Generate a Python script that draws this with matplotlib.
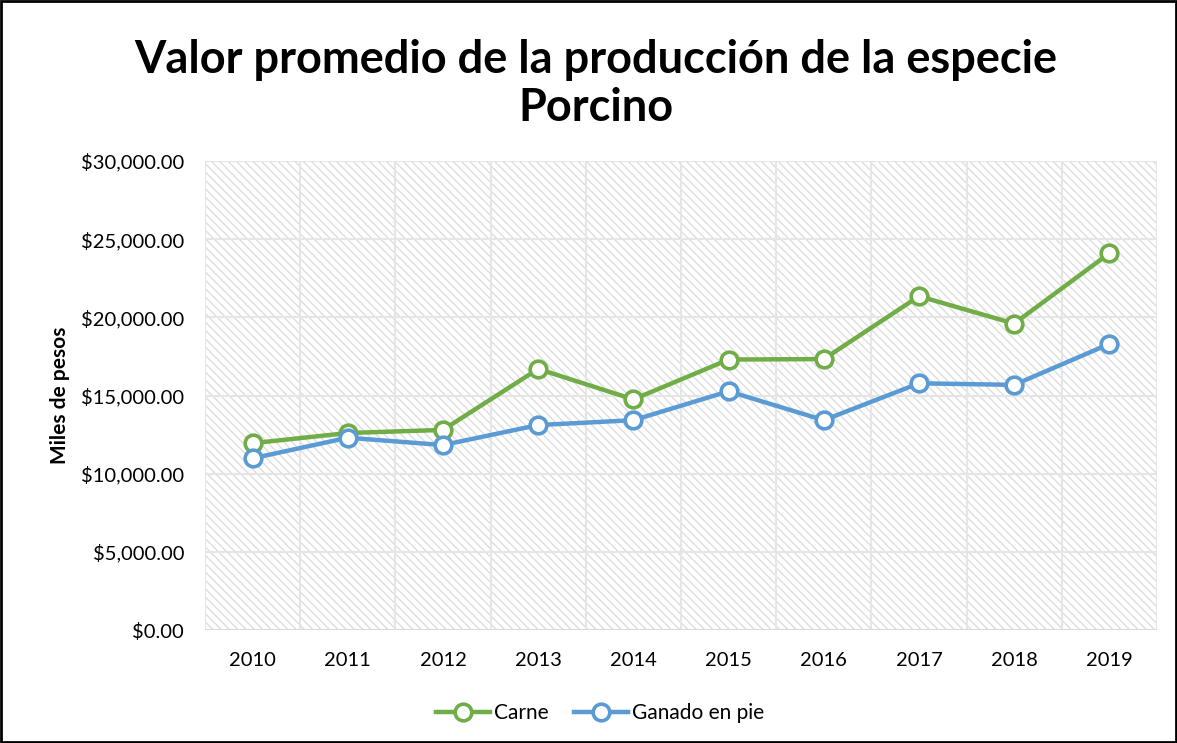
import numpy as np
import matplotlib.pyplot as plt
from matplotlib.patches import Rectangle
from matplotlib.ticker import FuncFormatter

plt.rcParams["font.family"] = ["Lato", "DejaVu Sans"]
plt.rcParams["hatch.linewidth"] = 1.0

years = ["2010", "2011", "2012", "2013", "2014", "2015", "2016", "2017", "2018", "2019"]
carne = [11950, 12600, 12800, 16700, 14750, 17300, 17330, 21350, 19600, 24100]
ganado = [10980, 12300, 11830, 13110, 13420, 15270, 13420, 15780, 15680, 18300]

green = "#70ad47"
blue = "#5b9bd5"

fig = plt.figure(figsize=(11.77, 7.43), dpi=100)
ax = fig.add_axes([205 / 1177, 1 - 630 / 743, 952 / 1177, 469 / 743])

x = np.arange(len(years))
ax.set_xlim(-0.5, len(years) - 0.5)
ax.set_ylim(0, 30000)

# hatched plot area
ax.add_patch(Rectangle((0, 0), 1, 1, transform=ax.transAxes, facecolor="white",
                       edgecolor="#dedede", hatch="\\\\\\\\", linewidth=0, zorder=0))

ax.set_yticks(np.arange(0, 30001, 5000))
ax.yaxis.set_major_formatter(FuncFormatter(lambda v, p: f"${v:,.2f}"))
ax.set_xticks(x)
ax.set_xticklabels(years)
ax.set_xticks(np.arange(-0.5, len(years)), minor=True)
ax.grid(axis="y", which="major", color="#e6e6e6", linewidth=1.5, zorder=1)
ax.grid(axis="x", which="minor", color="#e6e6e6", linewidth=1.5, zorder=1)
ax.tick_params(which="both", length=0, labelsize=14.5)
ax.tick_params(axis="x", pad=16)
ax.tick_params(axis="y", pad=15)
for s in ax.spines.values():
    s.set_visible(False)
ax.axhline(0, color="#d9d9d9", linewidth=1.2, zorder=2)

ax.plot(x, carne, "-o", color=green, linewidth=3.2, markersize=12, markerfacecolor="white",
        markeredgewidth=2.6, label="Carne", zorder=3)
ax.plot(x, ganado, "-o", color=blue, linewidth=3.2, markersize=12, markerfacecolor="white",
        markeredgewidth=2.6, label="Ganado en pie", zorder=3)

ax.set_ylabel("Miles de pesos", fontsize=15, fontweight="bold", labelpad=8)

fig.suptitle("Valor promedio de la producción de la especie\nPorcino", x=596 / 1177, y=0.948,
             fontsize=32.5, fontweight="bold", linespacing=1.2)

fig.legend(loc="center", bbox_to_anchor=(600 / 1177, 1 - 713 / 743), ncol=2, frameon=False,
           fontsize=15, handlelength=2.6, columnspacing=1.2, handletextpad=0.2)

fig.add_artist(Rectangle((0.001, 0.001), 0.998, 0.998, transform=fig.transFigure,
                         fill=False, edgecolor="black", linewidth=2))

fig.savefig("out.png", dpi=100)
